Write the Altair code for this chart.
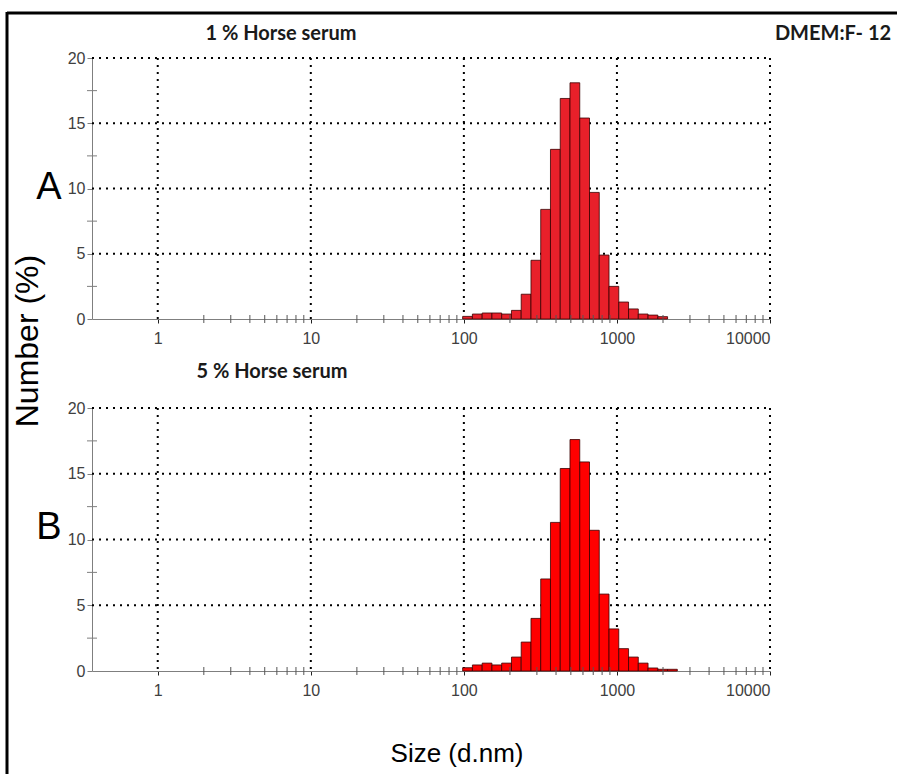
import altair as alt
import pandas as pd

# ---------------- data ----------------
# bin edges (d.nm) of the size classes that carry a bar
EDGES = [98.2, 113.7, 131.7, 152.5, 176.6, 204.6, 236.9, 274.4, 317.8, 368.0,
         426.2, 493.6, 571.6, 662.0, 766.6, 887.8, 1028, 1191, 1379, 1597,
         1850, 2142, 2480]
TOP_VALUES = [0.2, 0.38, 0.46, 0.46, 0.38, 0.66, 1.9, 4.5, 8.4, 13.0, 16.9,
              18.1, 15.4, 9.7, 4.9, 2.5, 1.3, 0.77, 0.38, 0.3, 0.18]
BOTTOM_VALUES = [0.25, 0.46, 0.6, 0.46, 0.6, 1.06, 2.2, 4.0, 7.0, 11.3, 15.4,
                 17.6, 15.9, 10.7, 5.85, 3.2, 1.7, 1.06, 0.6, 0.23, 0.13, 0.13]
X_MAJOR = [1, 10, 100, 1000, 10000]
X_MINOR = [2, 3, 4, 5, 6, 7, 8, 9,
           20, 30, 40, 50, 60, 70, 80, 90,
           200, 300, 400, 500, 600, 700, 800, 900,
           2000, 3000, 4000, 5000, 6000, 7000, 8000, 9000]
Y_MAJOR = [0, 5, 10, 15, 20]
Y_GRID = [5, 10, 15, 20]
Y_MINOR = [2.5, 7.5, 12.5, 17.5]

FONT = "Liberation Sans"
TITLE_FONT = "Lato"
W = 678

xscale = alt.Scale(type="log", domain=[0.372, 10000], nice=False)
yscale = alt.Scale(domain=[0, 20], nice=False)


def one(**kw):
    return pd.DataFrame([kw])


def panel(values, height, fill, title, title_x, title_y, letter, letter_y, extra):
    bars = pd.DataFrame({
        "lo": EDGES[:len(values)],
        "hi": EDGES[1:len(values) + 1],
        "v": values,
    })
    x_enc = alt.X("lo:Q", scale=xscale,
                  axis=alt.Axis(values=X_MAJOR, format="d", grid=False,
                                title=None, domainColor="#7f7f7f",
                                tickColor="#222222", tickSize=4,
                                labelPadding=7, labelFont=FONT,
                                labelFontSize=16, labelColor="#404040"))
    y_enc = alt.Y("v:Q", scale=yscale,
                  axis=alt.Axis(values=Y_MAJOR, grid=False, title=None,
                                domainColor="#7f7f7f", tickColor="#7f7f7f",
                                tickSize=5, labelPadding=2, labelFont=FONT,
                                labelFontSize=16, labelColor="#404040"))

    xgrid = alt.Chart(pd.DataFrame({"g": X_MAJOR})).mark_rule(
        color="black", strokeWidth=2, strokeDash=[2, 5]
    ).encode(x=alt.X("g:Q", scale=xscale), y=alt.value(0), y2=alt.value(height + 3))

    ygrid = alt.Chart(pd.DataFrame({"g": Y_GRID})).mark_rule(
        color="black", strokeWidth=2, strokeDash=[2, 5]
    ).encode(y=alt.Y("g:Q", scale=yscale), x=alt.value(0), x2=alt.value(W))

    bar = alt.Chart(bars).mark_rect(
        fill=fill, stroke="#3a0000", strokeWidth=0.8
    ).encode(x=x_enc, x2="hi:Q", y=y_enc, y2=alt.datum(0))

    xminor = alt.Chart(pd.DataFrame({"m": X_MINOR})).mark_rule(
        color="#555555", strokeWidth=1
    ).encode(x=alt.X("m:Q", scale=xscale), y=alt.value(height - 4),
             y2=alt.value(height + 4))

    yminor = alt.Chart(pd.DataFrame({"m": Y_MINOR})).mark_rule(
        color="#7f7f7f", strokeWidth=1
    ).encode(y=alt.Y("m:Q", scale=yscale), x=alt.value(-5), x2=alt.value(5))

    ttl = alt.Chart(one(t=title)).mark_text(
        font=TITLE_FONT, fontSize=20, fontWeight="bold", color="#1a1a1a",
        align="center", baseline="alphabetic"
    ).encode(text="t:N", x=alt.value(title_x), y=alt.value(title_y))

    let = alt.Chart(one(t=letter)).mark_text(
        font=FONT, fontSize=38, color="black", align="center",
        baseline="alphabetic"
    ).encode(text="t:N", x=alt.value(-43), y=alt.value(letter_y))

    layers = [xgrid, ygrid, bar, xminor, yminor, ttl, let] + extra
    return alt.layer(*layers).properties(width=W, height=height)


top_extra = [
    # frame (top edge)
    alt.Chart(one(a=1)).mark_rule(color="black", strokeWidth=3).encode(
        x=alt.value(-85), x2=alt.value(805), y=alt.value(-45)),
    alt.Chart(one(t="DMEM:F- 12")).mark_text(
        font=TITLE_FONT, fontSize=20, fontWeight="bold", color="#1a1a1a",
        align="center", baseline="alphabetic"
    ).encode(text="t:N", x=alt.value(741), y=alt.value(-18)),
    alt.Chart(one(t="Number (%)")).mark_text(
        font=FONT, fontSize=32, color="black", align="center",
        baseline="alphabetic", angle=270
    ).encode(text="t:N", x=alt.value(-54), y=alt.value(283)),
]

bottom_extra = [
    # frame (left edge)
    alt.Chart(one(a=1)).mark_rule(color="black", strokeWidth=3).encode(
        x=alt.value(-85), y=alt.value(-396), y2=alt.value(366)),
    alt.Chart(one(t="Size (d.nm)")).mark_text(
        font=FONT, fontSize=26, color="black", align="center",
        baseline="alphabetic"
    ).encode(text="t:N", x=alt.value(365), y=alt.value(354)),
]

top = panel(TOP_VALUES, 261, "#E8202A", "1 % Horse serum", 189, -18, "A", 141, top_extra)
bottom = panel(BOTTOM_VALUES, 263, "#FF0000", "5 % Horse serum", 180, -30, "B", 131, bottom_extra)

chart = alt.vconcat(top, bottom, spacing=89, bounds="flush").properties(
    padding={"left": 5, "top": 10, "right": 0, "bottom": 0},
    background="white",
).configure_view(stroke=None)

chart.save("out.html", embed_options={"renderer": "svg", "actions": False})
